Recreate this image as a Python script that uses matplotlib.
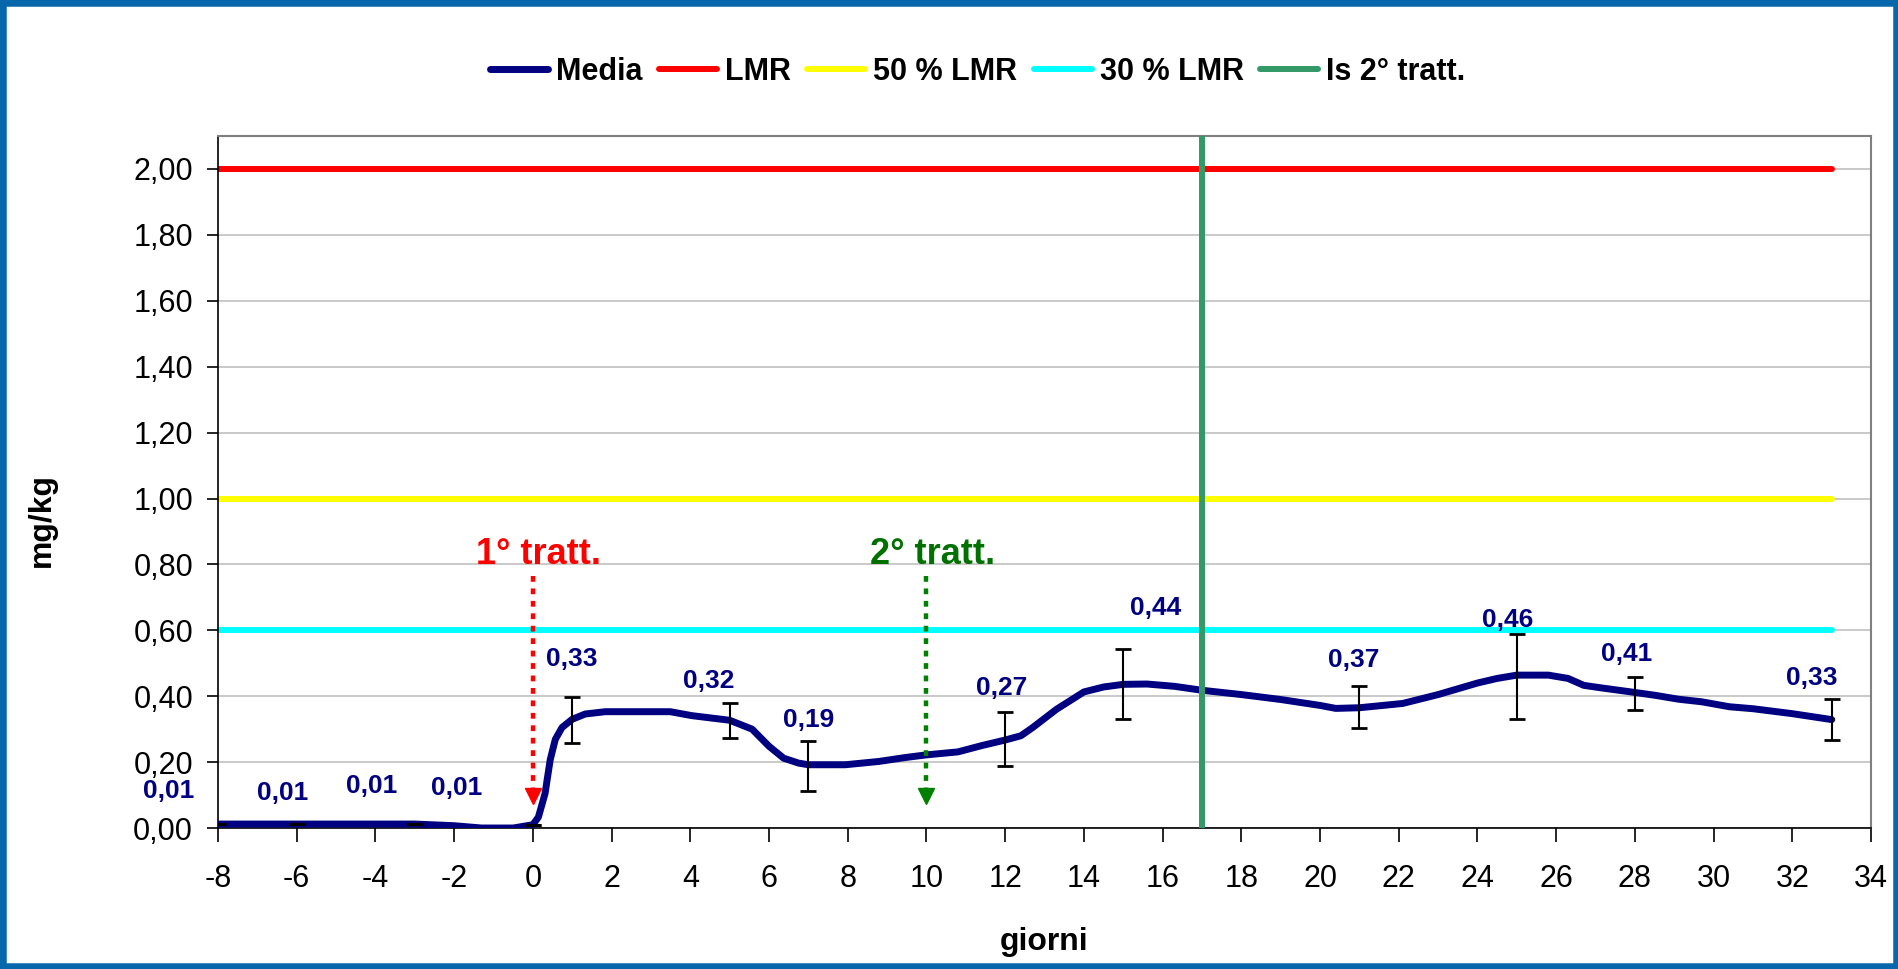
import matplotlib.pyplot as plt
from matplotlib.patches import Rectangle

plt.rcParams['font.family'] = ['Liberation Sans', 'DejaVu Sans']
plt.rcParams['axes.unicode_minus'] = False

# Media curve as drawn (days, mg/kg)
curve_days = [-8, -3, -2, -1.3, -0.5, 0, 0.14, 0.31, 0.44, 0.57, 0.74, 1.0, 1.33, 1.84,
              3.49, 4.04, 5.0, 5.57, 6.0, 6.37, 6.75, 7.0, 7.94, 8.79, 9.47, 10.0, 10.8,
              11.4, 12.0, 12.4, 12.7, 13.3, 14.0, 14.5, 15.0, 15.6, 16.3, 17.0, 18.0, 19.0,
              20.0, 20.4, 21.0, 22.1, 23.0, 24.0, 24.5, 25.0, 25.8, 26.3, 26.7, 27.1, 27.9,
              28.5, 29.1, 29.7, 30.4, 31.0, 32.0, 33.0]
curve_vals = [0.012, 0.012, 0.007, 0.0, 0.0, 0.01, 0.033, 0.105, 0.207, 0.269, 0.305, 0.33,
              0.346, 0.353, 0.353, 0.341, 0.327, 0.30, 0.248, 0.212, 0.197, 0.192, 0.192,
              0.202, 0.214, 0.222, 0.231, 0.25, 0.267, 0.28, 0.305, 0.36, 0.413, 0.428,
              0.436, 0.437, 0.43, 0.418, 0.405, 0.39, 0.372, 0.363, 0.365, 0.378, 0.405,
              0.44, 0.454, 0.464, 0.464, 0.454, 0.433, 0.426, 0.413, 0.403, 0.391, 0.383,
              0.368, 0.362, 0.347, 0.329]

# sampled points with error bars
sample_days = [-8, -6, -3, 0, 1, 5, 7, 12, 15, 21, 25, 28, 33]
sample_mean = [0.012, 0.012, 0.012, 0.01, 0.33, 0.327, 0.192, 0.267, 0.436, 0.365, 0.464, 0.408, 0.329]
err_low = [0.012, 0.012, 0.012, 0.01, 0.258, 0.273, 0.113, 0.187, 0.331, 0.305, 0.330, 0.357, 0.266]
err_high = [0.012, 0.012, 0.012, 0.01, 0.398, 0.379, 0.265, 0.352, 0.542, 0.430, 0.590, 0.458, 0.391]

# value labels and where they sit
label_vals = [0.01, 0.01, 0.01, 0.01, 0.33, 0.32, 0.19, 0.27, 0.44, 0.37, 0.46, 0.41, 0.33]
label_x = [-9.25, -6.35, -4.1, -1.95, 0.98, 4.47, 7.0, 11.92, 15.83, 20.86, 24.77, 27.79, 32.48]
label_y = [0.113, 0.107, 0.126, 0.121, 0.513, 0.445, 0.328, 0.426, 0.669, 0.511, 0.632, 0.529, 0.455]

lmr = 2.0
lmr50 = 1.0
lmr30 = 0.6
lmr_days = [-8, 33]
second_treat_is = 17

treat_days = [0, 10]
treat_names = ['1° tratt.', '2° tratt.']
arrow_top = 0.766
arrow_tip = 0.074

fig = plt.figure(figsize=(18.99, 9.69), dpi=100)
ax = fig.add_axes([0.1148, 0.1455, 0.8705, 0.7141])

ax.plot(lmr_days, [lmr, lmr], color='#FF0000', lw=4.3, solid_capstyle='round', label='LMR', zorder=2)
ax.plot(lmr_days, [lmr50, lmr50], color='#FFFF00', lw=4.3, solid_capstyle='round', label='50 % LMR', zorder=2)
ax.plot(lmr_days, [lmr30, lmr30], color='#00FFFF', lw=4.3, solid_capstyle='round', label='30 % LMR', zorder=2)
ax.plot(curve_days, curve_vals, color='#000080', lw=5, solid_capstyle='round', label='Media', zorder=3)

yerr = [[m - lo for m, lo in zip(sample_mean, err_low)],
        [hi - m for m, hi in zip(sample_mean, err_high)]]
ax.errorbar(sample_days, sample_mean, yerr=yerr, fmt='none', ecolor='black',
            elinewidth=1.5, capsize=6, capthick=2, zorder=4)

ax.axvline(second_treat_is, color='#339966', lw=4.3, solid_capstyle='round', label='Is 2° tratt.', zorder=5)

for d, name, col, tcol in zip(treat_days, treat_names, ['#FF0000', '#008000'], ['#FF0000', '#007000']):
    ax.plot([d, d], [arrow_top, arrow_tip + 0.045], color=col, lw=3.2,
            linestyle=(0, (1.3, 1.5)), dash_capstyle='butt', zorder=6)
    ax.plot([d], [arrow_tip + 0.024], marker='v', markersize=12, color=col, zorder=6)
    ax.text(d + 0.15, 0.80, name, color=tcol, fontsize=26, fontweight='bold',
            ha='center', va='baseline', zorder=7)

for v, x, y in zip(label_vals, label_x, label_y):
    ax.text(x, y, f"{v:.2f}".replace('.', ','), color='#000080', fontsize=19,
            fontweight='bold', ha='center', va='center', zorder=7, clip_on=False)

ax.set_xlim(-8, 34)
ax.set_ylim(0, 2.1)
ax.set_xticks(range(-8, 35, 2))
yt = [i * 0.2 for i in range(11)]
ax.set_yticks(yt)
ax.set_yticklabels([f"{t:.2f}".replace('.', ',') for t in yt])
ax.tick_params(axis='both', labelsize=22, direction='out', color='black', width=1.2)
ax.tick_params(axis='y', length=8, pad=10)
ax.tick_params(axis='x', length=10, pad=16)
ax.yaxis.grid(True, color='#C0C0C0', lw=1.2)
ax.set_axisbelow(True)
for s in ['top', 'right']:
    ax.spines[s].set_color('#808080')
    ax.spines[s].set_linewidth(1.5)
for s in ['left', 'bottom']:
    ax.spines[s].set_color('black')
    ax.spines[s].set_linewidth(1.2)

handles, labels = ax.get_legend_handles_labels()
order = ['Media', 'LMR', '50 % LMR', '30 % LMR', 'Is 2° tratt.']
hmap = dict(zip(labels, handles))
fig.legend([hmap[k] for k in order], order, loc='center', bbox_to_anchor=(0.5148, 0.9257),
           ncol=5, frameon=False, prop={'size': 22, 'weight': 'bold'},
           handlelength=1.9, handletextpad=0.25, columnspacing=0.55)

fig.text(0.55, 1 - 942 / 969, 'giorni', fontsize=23, fontweight='bold', ha='center', va='center')
fig.text(0.0221, 1 - 520 / 969, 'mg/kg', fontsize=23, fontweight='bold', ha='center',
         va='center', rotation=90)

fig.patches.append(Rectangle((0, 0), 1, 1, transform=fig.transFigure, fill=False,
                             edgecolor='#0767AB', linewidth=9, zorder=10))

fig.savefig('out.png', dpi=100)
